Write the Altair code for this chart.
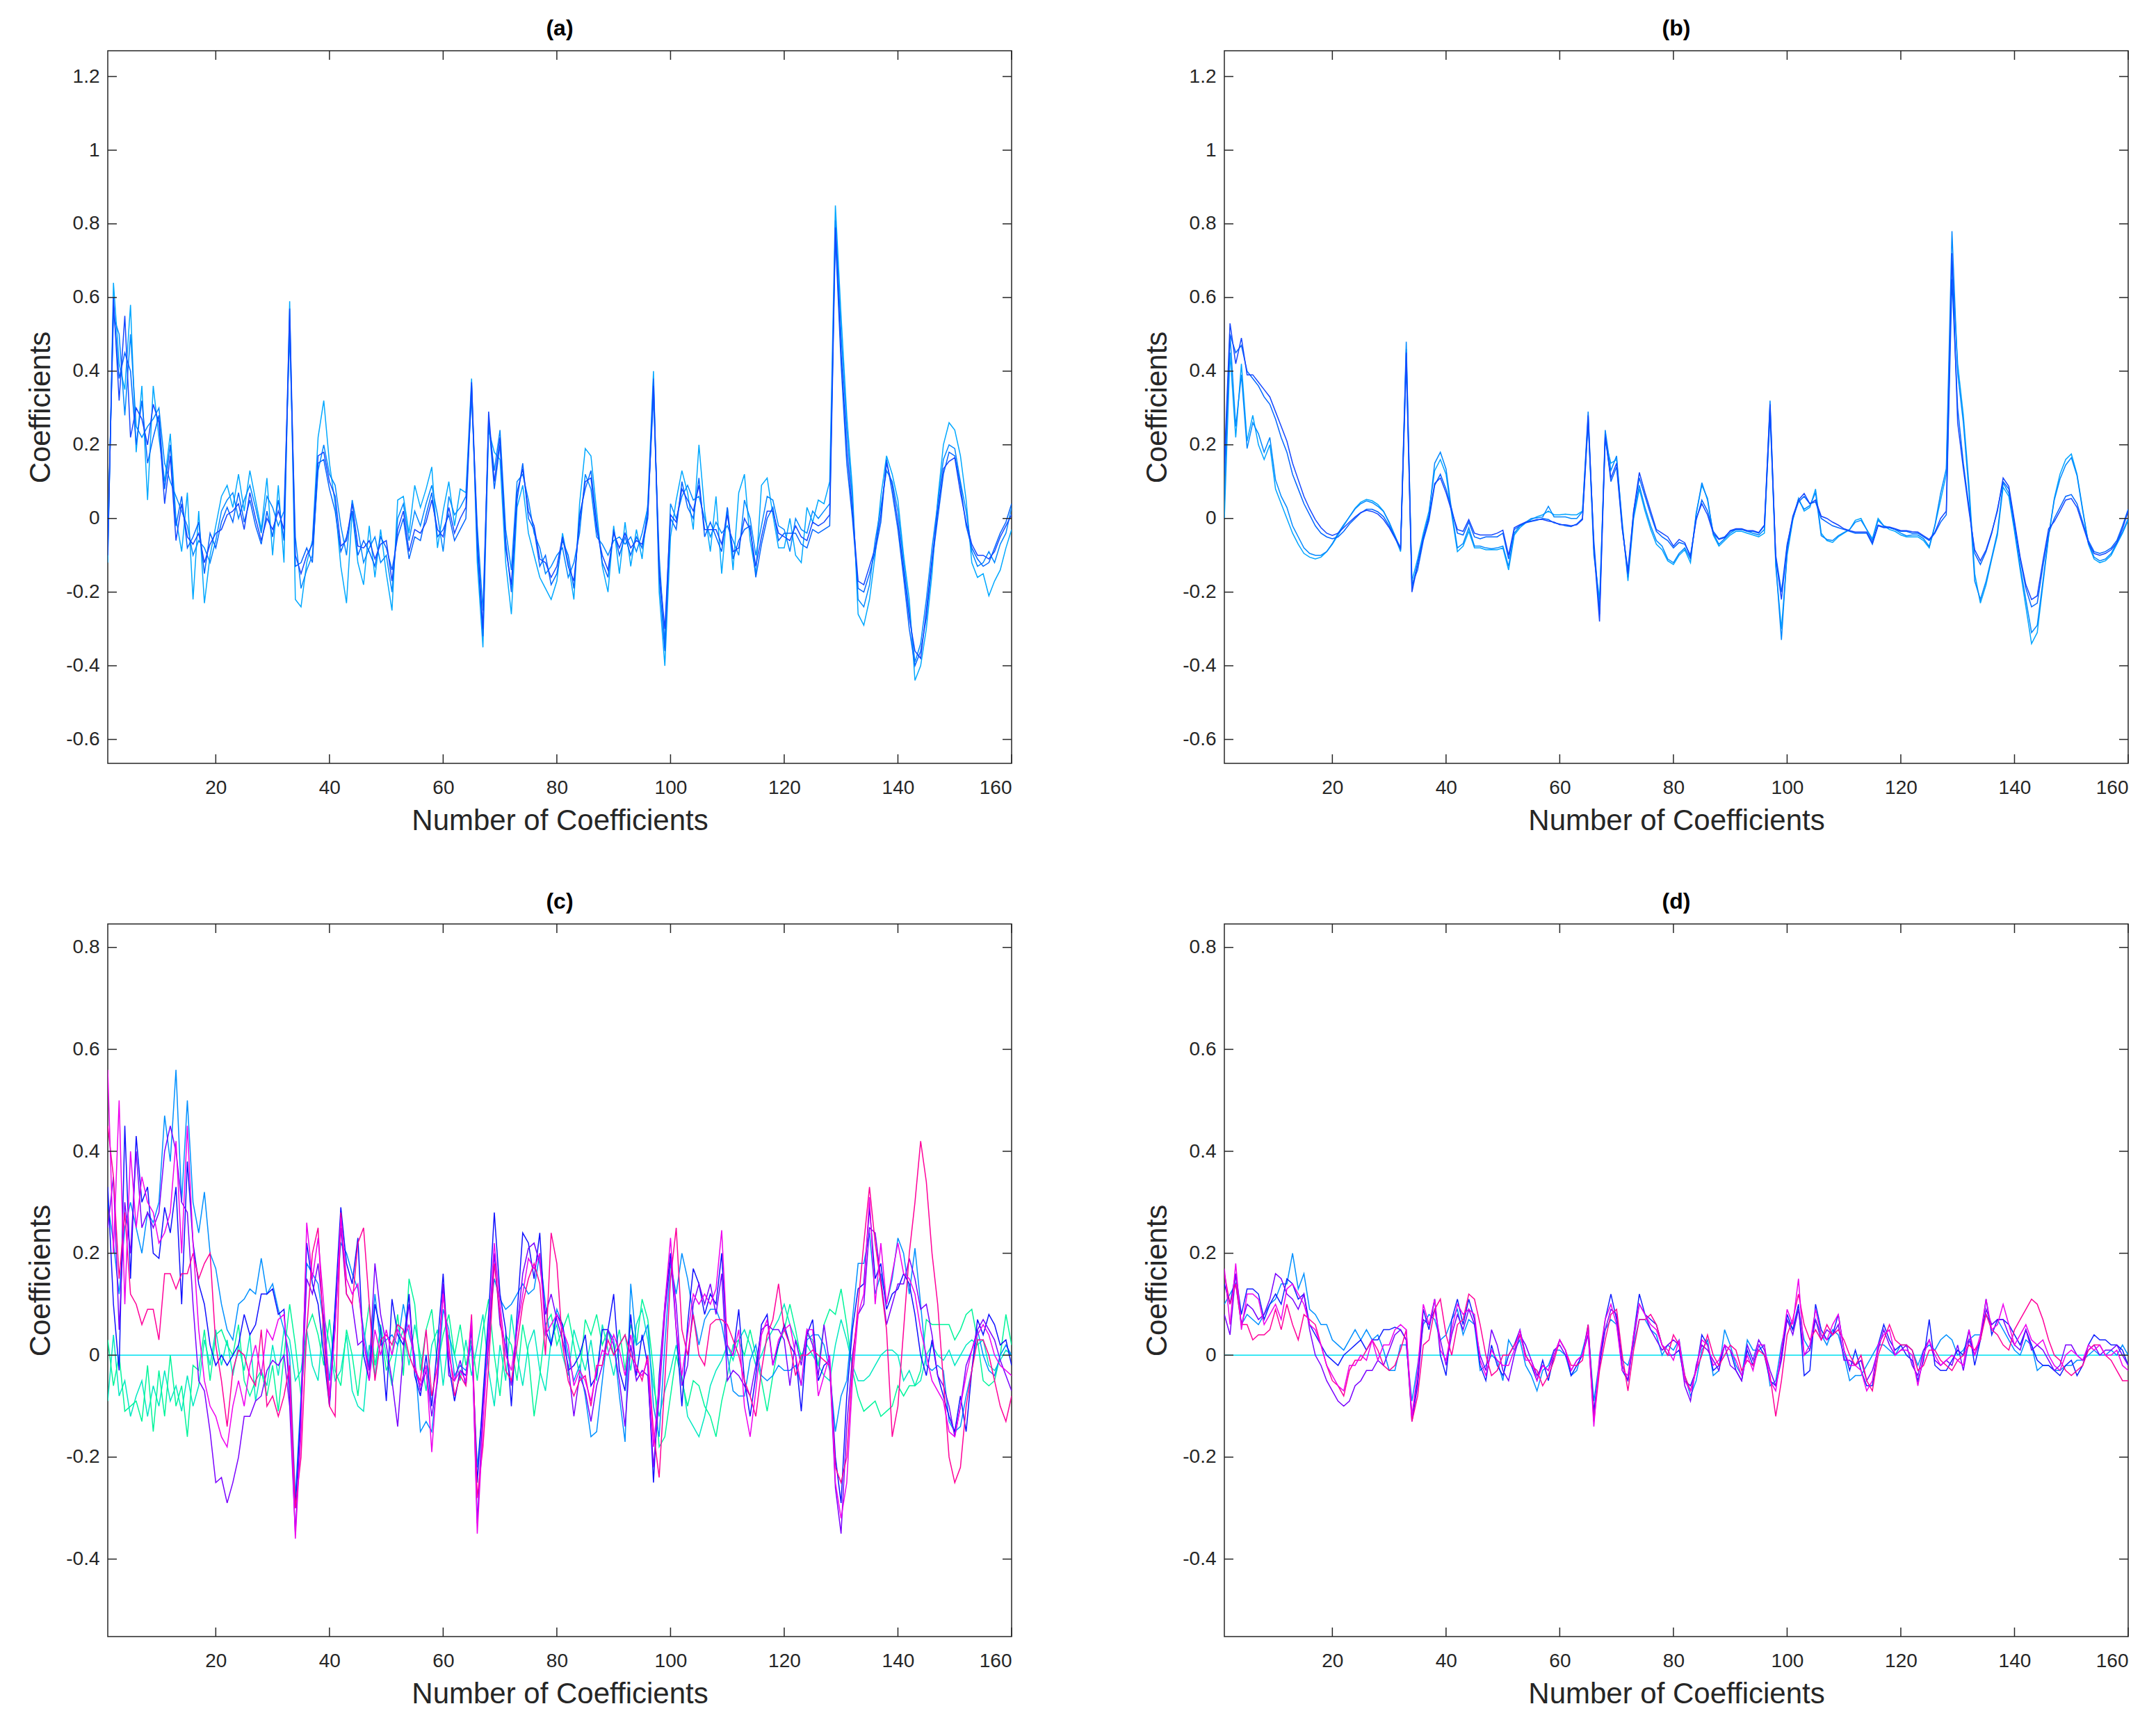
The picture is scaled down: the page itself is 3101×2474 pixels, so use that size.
import altair as alt
import pandas as pd

X = list(range(1, 161))
XTICKS = [20, 40, 60, 80, 100, 120, 140, 160]
YTICKS_AB = [-0.6, -0.4, -0.2, 0, 0.2, 0.4, 0.6, 0.8, 1, 1.2]
YTICKS_CD = [-0.4, -0.2, 0, 0.2, 0.4, 0.6, 0.8]

# ---------------- panel (a) ----------------
A_DARK = [
    -0.10, 0.60, 0.32, 0.55, 0.22, 0.30, 0.27, 0.20, 0.31, 0.26,
    0.04, 0.17, -0.06, 0.04, -0.05, -0.07, -0.04, -0.12, -0.07, -0.04,
    -0.03, 0.01, 0.02, 0.04, -0.03, 0.07, 0.00, -0.06, 0.00, -0.03,
    0.02, -0.03, 0.57, -0.10, -0.15, -0.10, -0.07, 0.17, 0.18, 0.10,
    0.06, -0.075, -0.06, 0.04, -0.075, -0.08, -0.06, -0.11, -0.07, -0.06,
    -0.17, -0.03, 0.02, -0.09, -0.03, -0.04, -0.01, 0.05, -0.03, -0.05,
    0.03, -0.04, 0.00, 0.03, 0.37, -0.05, -0.30, 0.29, 0.10, 0.22,
    -0.08, -0.18, 0.07, 0.135, 0.02, -0.02, -0.11, -0.12, -0.16, -0.13,
    -0.05, -0.13, -0.17, -0.01, 0.10, 0.11, -0.03, -0.10, -0.14, -0.04,
    -0.08, -0.04, -0.08, -0.06, -0.07, 0.01, 0.36, -0.14, -0.30, 0.01,
    -0.01, 0.08, 0.05, 0.02, 0.09, -0.03, -0.03, -0.03, -0.07, 0.01,
    -0.09, -0.08, 0.00, -0.03, -0.13, -0.05, 0.02, 0.02, -0.04, -0.05,
    -0.06, -0.02, -0.05, -0.06, -0.01, -0.02, -0.01, 0.01, 0.79, 0.45,
    0.19, 0.02, -0.17, -0.18, -0.13, -0.08, 0.01, 0.15, 0.09, -0.01,
    -0.14, -0.27, -0.36, -0.38, -0.25, -0.11, 0.02, 0.135, 0.155, 0.165,
    0.07, -0.01, -0.07, -0.10, -0.10, -0.11, -0.09, -0.05, -0.02, 0.01,
]
A_LIGHT = [
    -0.12, 0.64, 0.42, 0.35, 0.58, 0.18, 0.36, 0.05, 0.36, 0.22,
    0.10, 0.23, 0.00, -0.09, 0.07, -0.22, 0.02, -0.23, -0.10, -0.02,
    0.06, 0.09, 0.03, 0.12, 0.02, 0.13, 0.05, -0.03, 0.11, -0.10,
    0.09, -0.12, 0.59, -0.22, -0.24, -0.12, -0.06, 0.22, 0.32, 0.15,
    0.04, -0.13, -0.23, 0.02, -0.12, -0.18, -0.02, -0.16, -0.03, -0.15,
    -0.25, 0.05, 0.06, -0.04, 0.09, 0.03, 0.08, 0.14, -0.08, 0.02,
    0.10, -0.02, 0.08, 0.07, 0.38, -0.12, -0.35, 0.24, 0.18, 0.16,
    -0.12, -0.26, 0.03, 0.09, -0.04, -0.10, -0.16, -0.19, -0.22, -0.17,
    -0.04, -0.12, -0.22, 0.04, 0.19, 0.17, 0.02, -0.13, -0.20, -0.02,
    -0.15, -0.01, -0.13, -0.03, -0.11, 0.04, 0.40, -0.20, -0.40, -0.05,
    0.05, 0.13, 0.07, -0.03, 0.20, 0.02, -0.09, 0.06, -0.15, 0.03,
    -0.14, 0.07, 0.12, -0.06, -0.15, 0.09, 0.11, 0.01, -0.08, -0.08,
    0.00, -0.10, -0.12, 0.03, -0.01, 0.05, 0.04, 0.10, 0.85, 0.55,
    0.28, 0.08, -0.26, -0.29, -0.22, -0.10, 0.06, 0.17, 0.12, 0.05,
    -0.10, -0.22, -0.44, -0.40, -0.30, -0.15, 0.05, 0.20, 0.26, 0.24,
    0.17, 0.05, -0.12, -0.16, -0.15, -0.21, -0.17, -0.14, -0.08, -0.03,
]
A_MID1 = [
    -0.05, 0.55, 0.50, 0.28, 0.50, 0.25, 0.22, 0.25, 0.27, 0.30,
    0.15, 0.10, 0.06, 0.02, -0.02, -0.10, -0.06, -0.08, -0.12, -0.06,
    0.02, 0.05, 0.07, 0.00, 0.05, 0.09, 0.03, -0.04, 0.06, 0.03,
    -0.02, 0.02, 0.50, -0.05, -0.19, -0.14, -0.10, 0.13, 0.20, 0.12,
    0.09, -0.02, -0.10, 0.05, -0.03, -0.12, -0.08, -0.05, -0.12, -0.10,
    -0.20, 0.00, 0.04, -0.06, 0.02, -0.02, 0.04, 0.09, 0.01, -0.09,
    0.06, 0.01, 0.03, 0.06, 0.33, -0.02, -0.25, 0.26, 0.13, 0.24,
    -0.03, -0.14, 0.10, 0.12, 0.05, -0.04, -0.08, -0.15, -0.13, -0.10,
    -0.08, -0.16, -0.12, -0.04, 0.12, 0.08, -0.05, -0.07, -0.10, -0.06,
    -0.05, -0.07, -0.05, -0.09, -0.04, 0.03, 0.33, -0.10, -0.34, 0.04,
    0.00, 0.06, 0.09, 0.05, 0.06, 0.00, -0.05, -0.01, -0.04, -0.02,
    -0.06, -0.10, 0.05, 0.00, -0.10, -0.02, 0.06, 0.05, -0.02, -0.03,
    -0.09, 0.00, -0.03, -0.04, 0.02, 0.00, 0.02, 0.04, 0.81, 0.50,
    0.24, 0.05, -0.22, -0.24, -0.18, -0.06, 0.03, 0.13, 0.10, 0.02,
    -0.12, -0.25, -0.39, -0.34, -0.22, -0.08, 0.04, 0.16, 0.20, 0.19,
    0.10, 0.02, -0.09, -0.13, -0.12, -0.09, -0.12, -0.07, -0.04, 0.03,
]
A_MID2 = [
    -0.08, 0.58, 0.38, 0.45, 0.40, 0.20, 0.32, 0.15, 0.22, 0.28,
    0.08, 0.20, -0.02, 0.06, -0.08, -0.05, -0.01, -0.15, -0.04, -0.08,
    -0.01, 0.03, -0.01, 0.07, -0.01, 0.05, -0.02, -0.07, 0.02, -0.05,
    0.05, -0.06, 0.54, -0.13, -0.12, -0.08, -0.12, 0.15, 0.16, 0.08,
    0.02, -0.09, -0.05, 0.02, -0.10, -0.06, -0.09, -0.13, -0.05, -0.08,
    -0.14, -0.05, 0.00, -0.11, -0.05, -0.06, 0.01, 0.07, -0.05, -0.03,
    0.01, -0.06, -0.03, 0.00, 0.36, -0.08, -0.32, 0.27, 0.08, 0.20,
    -0.06, -0.20, 0.05, 0.15, 0.00, -0.03, -0.13, -0.10, -0.18, -0.15,
    -0.06, -0.10, -0.19, 0.01, 0.08, 0.13, -0.01, -0.12, -0.16, -0.03,
    -0.10, -0.05, -0.10, -0.05, -0.08, 0.00, 0.38, -0.16, -0.36, 0.00,
    -0.03, 0.10, 0.03, 0.00, 0.11, -0.05, -0.01, -0.05, -0.09, 0.03,
    -0.11, -0.06, -0.03, -0.02, -0.16, -0.07, 0.00, 0.03, -0.06, -0.04,
    -0.04, -0.04, -0.07, -0.08, -0.03, -0.04, -0.03, -0.02, 0.77, 0.42,
    0.15, 0.00, -0.19, -0.20, -0.15, -0.09, -0.01, 0.16, 0.07, -0.03,
    -0.16, -0.30, -0.40, -0.36, -0.27, -0.12, 0.00, 0.12, 0.18, 0.17,
    0.09, -0.02, -0.08, -0.11, -0.13, -0.12, -0.08, -0.04, -0.01, 0.04,
]

# ---------------- panel (b) ----------------
B_DARK = [
    0.15, 0.53, 0.42, 0.49, 0.39, 0.39, 0.37, 0.35, 0.33, 0.29,
    0.25, 0.21, 0.15, 0.105, 0.06, 0.026, -0.003, -0.025, -0.04, -0.046,
    -0.04, -0.025, -0.01, 0.004, 0.016, 0.022, 0.019, 0.012, -0.003, -0.025,
    -0.053, -0.082, 0.45, -0.20, -0.125, -0.053, 0.004, 0.095, 0.11, 0.07,
    0.019, -0.03, -0.035, -0.003, -0.04, -0.045, -0.045, -0.045, -0.04, -0.032,
    -0.10, -0.025, -0.017, -0.01, -0.007, -0.003, -0.003, -0.007, -0.01, -0.017,
    -0.017, -0.02, -0.017, -0.003, 0.28, -0.08, -0.28, 0.22, 0.11, 0.15,
    -0.025, -0.15, 0.019, 0.125, 0.07, 0.02, -0.03, -0.04, -0.05, -0.075,
    -0.057, -0.066, -0.105, 0.0, 0.04, 0.01, -0.04, -0.057, -0.052, -0.033,
    -0.028, -0.028, -0.033, -0.033, -0.038, -0.018, 0.31, -0.105, -0.22, -0.076,
    0.006, 0.05, 0.068, 0.04, 0.05, 0.006, 0.0, -0.01, -0.018, -0.028,
    -0.033, -0.037, -0.037, -0.037, -0.066, -0.018, -0.023, -0.023, -0.028, -0.033,
    -0.033, -0.036, -0.037, -0.047, -0.057, -0.037, 0.0, 0.02, 0.72, 0.26,
    0.135, 0.02, -0.085, -0.115, -0.085, -0.037, 0.02, 0.11, 0.087, -0.008,
    -0.105, -0.18, -0.22, -0.21, -0.115, -0.028, -0.008, 0.02, 0.05, 0.054,
    0.03, -0.018, -0.066, -0.095, -0.1, -0.095, -0.085, -0.066, -0.028, 0.02,
]
B_DARK2 = [
    0.12, 0.50, 0.45, 0.47, 0.40, 0.38, 0.36, 0.33, 0.31, 0.27,
    0.22, 0.18, 0.12, 0.08, 0.04, 0.01, -0.02, -0.04, -0.05, -0.055,
    -0.05, -0.035, -0.015, 0.0, 0.015, 0.025, 0.025, 0.018, 0.005, -0.02,
    -0.05, -0.08, 0.42, -0.18, -0.14, -0.06, -0.005, 0.09, 0.12, 0.08,
    0.025, -0.04, -0.045, -0.01, -0.05, -0.055, -0.05, -0.05, -0.05, -0.04,
    -0.11, -0.03, -0.02, -0.012, -0.008, -0.005, 0.0, -0.003, -0.012, -0.015,
    -0.02, -0.022, -0.015, 0.0, 0.26, -0.06, -0.26, 0.23, 0.1, 0.14,
    -0.03, -0.14, 0.02, 0.11, 0.06, 0.01, -0.035, -0.05, -0.06, -0.08,
    -0.065, -0.07, -0.1, -0.005, 0.05, 0.02, -0.035, -0.055, -0.05, -0.035,
    -0.03, -0.03, -0.035, -0.035, -0.04, -0.02, 0.28, -0.1, -0.2, -0.07,
    0.0, 0.045, 0.06, 0.04, 0.045, 0.0, -0.01, -0.02, -0.025, -0.03,
    -0.035, -0.04, -0.04, -0.04, -0.07, -0.02, -0.025, -0.025, -0.03, -0.035,
    -0.035, -0.04, -0.04, -0.05, -0.06, -0.04, -0.01, 0.01, 0.65, 0.3,
    0.15, 0.03, -0.095, -0.125, -0.09, -0.04, 0.025, 0.1, 0.08, -0.015,
    -0.11, -0.19, -0.24, -0.23, -0.13, -0.04, 0.0, 0.03, 0.06, 0.065,
    0.04, -0.01, -0.06, -0.09, -0.095, -0.09, -0.08, -0.06, -0.02, 0.025,
]
B_LIGHT = [
    0.05, 0.50, 0.25, 0.39, 0.19, 0.26, 0.23, 0.18, 0.22, 0.105,
    0.06, 0.03, -0.02, -0.05, -0.08, -0.095, -0.10, -0.10, -0.09, -0.068,
    -0.04, -0.017, 0.004, 0.026, 0.04, 0.048, 0.043, 0.033, 0.019, -0.01,
    -0.046, -0.082, 0.48, -0.19, -0.12, -0.05, 0.01, 0.15, 0.18, 0.134,
    0.019, -0.08, -0.068, -0.025, -0.075, -0.075, -0.08, -0.082, -0.08, -0.075,
    -0.13, -0.04, -0.02, -0.01, 0.0, 0.002, 0.004, 0.033, 0.004, 0.004,
    0.004, 0.0, 0.0, 0.019, 0.29, -0.08, -0.25, 0.24, 0.13, 0.17,
    -0.02, -0.16, 0.01, 0.09, 0.03, -0.02, -0.06, -0.075, -0.11, -0.12,
    -0.095, -0.08, -0.11, 0.01, 0.097, 0.05, -0.04, -0.07, -0.055, -0.04,
    -0.03, -0.03, -0.035, -0.04, -0.045, -0.03, 0.32, -0.12, -0.33, -0.09,
    0.0, 0.05, 0.025, 0.035, 0.07, -0.047, -0.057, -0.06, -0.047, -0.038,
    -0.03, -0.01, -0.005, -0.03, -0.06, -0.005, -0.02, -0.025, -0.03, -0.04,
    -0.047, -0.045, -0.045, -0.055, -0.076, -0.018, 0.068, 0.135, 0.78, 0.395,
    0.26, 0.07, -0.17, -0.22, -0.17, -0.105, -0.037, 0.097, 0.068, -0.028,
    -0.13, -0.22, -0.31, -0.29, -0.17, -0.047, 0.05, 0.107, 0.145, 0.165,
    0.116, 0.02, -0.066, -0.105, -0.115, -0.11, -0.095, -0.066, -0.037, 0.0,
]
B_LIGHT2 = [
    0.0, 0.45, 0.22, 0.42, 0.21, 0.28, 0.2, 0.16, 0.2, 0.08,
    0.04, 0.0, -0.04, -0.07, -0.095, -0.105, -0.11, -0.105, -0.09, -0.07,
    -0.045, -0.02, 0.005, 0.028, 0.044, 0.052, 0.048, 0.038, 0.02, -0.012,
    -0.05, -0.09, 0.46, -0.17, -0.11, -0.04, 0.02, 0.13, 0.16, 0.12,
    0.01, -0.09, -0.075, -0.035, -0.08, -0.08, -0.085, -0.085, -0.085, -0.08,
    -0.14, -0.045, -0.025, -0.012, -0.003, 0.005, 0.01, 0.02, 0.01, 0.01,
    0.012, 0.01, 0.01, 0.02, 0.27, -0.1, -0.22, 0.21, 0.15, 0.16,
    -0.01, -0.17, 0.0, 0.08, 0.02, -0.03, -0.07, -0.085, -0.115, -0.125,
    -0.1, -0.085, -0.12, 0.015, 0.09, 0.055, -0.045, -0.075, -0.06, -0.045,
    -0.035, -0.035, -0.04, -0.045, -0.05, -0.04, 0.3, -0.13, -0.3, -0.1,
    -0.005, 0.055, 0.02, 0.03, 0.08, -0.04, -0.06, -0.065, -0.05, -0.04,
    -0.03, -0.005, 0.0, -0.03, -0.055, 0.0, -0.02, -0.03, -0.035, -0.045,
    -0.05, -0.05, -0.05, -0.06, -0.08, -0.02, 0.05, 0.12, 0.7, 0.42,
    0.28, 0.09, -0.15, -0.23, -0.18, -0.11, -0.045, 0.085, 0.06, -0.035,
    -0.14, -0.24, -0.34, -0.31, -0.18, -0.05, 0.055, 0.12, 0.16, 0.175,
    0.12, 0.025, -0.07, -0.11, -0.12, -0.115, -0.1, -0.07, -0.04, -0.005,
]

# ---------------- panel (c) ----------------
C_BLUE = [
    0.33, 0.10, -0.03, 0.45, 0.15, 0.43, 0.30, 0.33, 0.20, 0.19,
    0.29, 0.24, 0.33, 0.10, 0.38, 0.22, 0.14, 0.10, 0.02, -0.02,
    0.00, -0.02, 0.00, 0.02, 0.08, 0.04, 0.06, 0.12, 0.12, 0.13,
    0.08, 0.09, -0.08, -0.30, -0.10, 0.22, 0.14, 0.10, 0.00, -0.10,
    0.10, 0.29, 0.18, 0.14, 0.23, 0.00, -0.05, 0.10, 0.05, -0.09,
    0.11, 0.04, 0.02, 0.12, -0.04, -0.08, 0.00, -0.10, 0.02, 0.16,
    -0.02, -0.09, -0.03, -0.04, 0.05, -0.25, -0.08, 0.08, 0.28, 0.12,
    0.05, -0.10, 0.08, 0.24, 0.22, 0.15, 0.24, 0.05, 0.02, 0.08,
    0.06, -0.03, -0.02, 0.00, 0.04, -0.06, -0.04, 0.05, 0.05, 0.12,
    -0.03, -0.07, 0.08, -0.04, 0.04, -0.02, -0.25, -0.04, 0.10, 0.20,
    0.05, -0.10, 0.06, 0.17, 0.14, 0.08, 0.12, 0.10, 0.20, 0.00,
    0.00, 0.09, -0.05, -0.12, -0.04, 0.06, 0.08, -0.02, 0.02, 0.06,
    0.02, 0.00, -0.11, 0.04, 0.07, -0.05, -0.02, -0.01, -0.20, -0.29,
    -0.08, 0.05, 0.13, 0.14, 0.29, 0.15, 0.18, 0.09, 0.12, 0.13,
    0.16, 0.14, 0.08, 0.00, -0.04, 0.03, -0.04, -0.08, -0.12, -0.15,
    -0.08, -0.15, -0.03, 0.07, 0.04, 0.08, 0.06, 0.02, 0.03, -0.02,
]
C_PURPLE = [
    0.25, 0.35, 0.05, 0.30, 0.20, 0.40, 0.25, 0.28, 0.25, 0.28,
    0.40, 0.45, 0.40, 0.30, 0.28, 0.10, -0.05, -0.07, -0.15, -0.25,
    -0.24, -0.29, -0.25, -0.20, -0.12, -0.12, -0.09, -0.08, -0.03, -0.01,
    -0.02, 0.00, -0.10, -0.35, -0.12, 0.15, 0.12, 0.18, 0.07, -0.10,
    0.06, 0.25, 0.12, 0.10, 0.02, 0.03, -0.03, 0.18, 0.08, 0.02,
    -0.05, -0.14, 0.01, 0.10, -0.02, -0.07, -0.03, -0.12, -0.05, 0.14,
    -0.04, -0.05, -0.01, -0.06, 0.06, -0.33, -0.10, 0.02, 0.20, 0.06,
    0.02, -0.06, 0.05, 0.16, 0.21, 0.22, 0.18, 0.08, 0.12, 0.07,
    0.03, -0.02, -0.12, -0.04, -0.07, -0.13, -0.06, -0.02, 0.05, 0.02,
    -0.05, -0.14, 0.02, -0.05, -0.03, -0.04, -0.22, -0.08, 0.08, 0.19,
    0.10, -0.06, -0.02, 0.10, 0.14, 0.10, 0.14, 0.08, 0.16, -0.05,
    -0.03, -0.04, -0.06, -0.08, -0.02, 0.05, 0.06, 0.05, 0.05, 0.03,
    -0.06, 0.03, -0.02, 0.05, 0.02, -0.04, 0.06, -0.02, -0.26, -0.35,
    -0.14, 0.00, 0.08, 0.10, 0.25, 0.24, 0.15, 0.06, 0.10, 0.14,
    0.14, 0.19, 0.15, 0.09, 0.10, 0.04, -0.04, -0.06, -0.10, -0.16,
    -0.10, -0.02, 0.01, 0.05, 0.07, 0.05, 0.03, -0.01, -0.04, -0.07,
]
C_MAGENTA = [
    0.56, 0.20, 0.50, 0.10, 0.40, 0.25, 0.35, 0.30, 0.28, 0.22,
    0.24, 0.28, 0.42, 0.20, 0.45, 0.22, 0.05, -0.05, -0.10, -0.12,
    -0.16, -0.18, -0.10, -0.05, -0.10, -0.02, 0.02, -0.04, 0.05, 0.03,
    0.07, 0.08, -0.05, -0.36, -0.15, 0.26, 0.15, 0.23, 0.10, -0.08,
    0.05, 0.27, 0.15, 0.12, 0.14, 0.03, -0.05, 0.05, 0.00, 0.05,
    0.00, 0.05, 0.03, 0.06, -0.02, -0.06, -0.02, -0.19, -0.03, 0.12,
    0.00, -0.05, -0.03, -0.05, 0.07, -0.35, -0.14, 0.05, 0.22, 0.10,
    0.00, -0.03, 0.05, 0.12, 0.19, 0.17, 0.20, 0.04, 0.06, 0.08,
    0.05, 0.02, -0.06, -0.03, -0.05, -0.09, -0.03, 0.01, 0.00, 0.04,
    0.01, -0.04, 0.04, -0.03, -0.04, -0.01, -0.18, -0.06, 0.10, 0.23,
    0.05, -0.04, 0.04, 0.12, 0.10, 0.12, 0.10, 0.13, 0.245, 0.02,
    0.00, 0.05, -0.10, -0.16, -0.07, 0.04, 0.07, -0.02, 0.03, 0.05,
    0.06, 0.00, -0.06, 0.05, 0.05, -0.08, -0.04, 0.00, -0.25, -0.32,
    -0.25, -0.05, 0.08, 0.12, 0.31, 0.10, 0.22, 0.10, 0.16, 0.22,
    0.16, 0.15, 0.12, 0.05, 0.00, -0.05, -0.07, -0.09, -0.15, -0.16,
    -0.10, -0.04, 0.01, 0.04, 0.06, 0.04, 0.00, -0.02, -0.03, -0.04,
]
C_PINK = [
    0.45, 0.35, 0.15, 0.28, 0.12, 0.10, 0.06, 0.09, 0.09, 0.03,
    0.16, 0.16, 0.13, 0.16, 0.16, 0.20, 0.15, 0.18, 0.20, 0.02,
    -0.05, -0.14, -0.03, 0.01, 0.00, -0.04, -0.06, 0.05, -0.10, -0.08,
    -0.12, -0.08, -0.02, -0.30, -0.20, 0.05, 0.20, 0.25, 0.03, -0.10,
    -0.12, 0.28, 0.12, 0.10, 0.22, 0.25, 0.10, -0.05, 0.03, 0.04,
    0.02, 0.06, 0.05, 0.00, -0.03, -0.05, 0.05, -0.08, -0.02, 0.12,
    0.02, -0.08, -0.04, -0.06, 0.08, -0.28, -0.18, -0.02, 0.18, 0.08,
    -0.03, -0.05, 0.02, 0.10, 0.15, 0.18, 0.14, 0.00, 0.24, 0.18,
    0.02, -0.05, -0.08, -0.05, -0.04, -0.10, -0.02, -0.02, 0.03, 0.00,
    0.02, 0.04, 0.00, -0.02, -0.05, 0.00, -0.15, -0.24, -0.05, 0.15,
    0.25, 0.05, 0.00, 0.08, 0.00, -0.02, 0.06, 0.07, 0.07, 0.06,
    0.03, 0.00, -0.05, -0.08, -0.12, -0.03, 0.04, 0.07, 0.14, 0.05,
    0.02, -0.04, 0.00, 0.00, 0.01, 0.00, -0.01, -0.02, -0.22, -0.25,
    -0.20, -0.02, 0.10, 0.22, 0.33, 0.22, 0.14, 0.05, -0.16, -0.10,
    0.05, 0.20, 0.30, 0.42, 0.34, 0.20, 0.10, -0.05, -0.20, -0.25,
    -0.22, -0.10, -0.03, 0.03, 0.03, 0.00, -0.05, -0.10, -0.13, -0.08,
]
C_SKY = [
    0.30, 0.22, 0.12, 0.25, 0.30, 0.25, 0.20, 0.28, 0.26, 0.30,
    0.47, 0.38, 0.56, 0.30, 0.50, 0.30, 0.24, 0.32, 0.20, 0.17,
    0.10, 0.05, 0.03, 0.10, 0.11, 0.13, 0.12, 0.19, 0.12, 0.14,
    0.09, 0.05, 0.00, -0.28, -0.08, 0.18, 0.16, 0.14, 0.06, -0.05,
    0.09, 0.22, 0.20, 0.16, 0.13, 0.05, -0.02, 0.12, 0.02, 0.03,
    0.04, 0.02, 0.10, 0.04, 0.00, -0.15, -0.13, -0.15, -0.05, 0.09,
    0.05, -0.04, -0.02, -0.03, 0.02, -0.22, -0.10, 0.06, 0.15, 0.11,
    0.09, 0.10, 0.12, 0.14, 0.12, 0.13, 0.20, 0.10, 0.02, 0.09,
    0.06, 0.00, -0.05, -0.02, -0.08, -0.16, -0.15, -0.05, 0.05, 0.03,
    -0.08, -0.17, 0.14, 0.02, 0.03, 0.06, -0.10, -0.16, 0.02, 0.18,
    0.12, 0.20, 0.15, 0.08, 0.02, 0.07, 0.09, 0.09, 0.06, 0.00,
    -0.07, -0.08, -0.08, -0.01, 0.02, -0.04, -0.05, -0.04, -0.02, -0.03,
    -0.03, -0.02, -0.06, 0.03, 0.04, 0.04, 0.02, -0.03, -0.15, -0.08,
    -0.05, 0.07, 0.18, 0.18, 0.24, 0.12, 0.16, 0.10, 0.15, 0.23,
    0.20, 0.12, 0.21, 0.10, -0.02, -0.03, -0.02, -0.03, -0.13, -0.15,
    -0.14, -0.08, -0.03, 0.05, 0.00, -0.03, -0.04, 0.00, 0.02, 0.00,
]
C_GREEN = [
    0.03, -0.06, 0.00, -0.11, -0.10, -0.09, -0.13, -0.02, -0.15, -0.03,
    -0.12, 0.00, -0.10, -0.06, -0.16, -0.02, -0.03, 0.05, -0.05, 0.04,
    0.05, 0.02, 0.00, 0.06, -0.05, -0.08, -0.05, -0.03, -0.08, -0.02,
    -0.11, 0.00, 0.10, 0.02, -0.08, 0.05, 0.08, 0.04, -0.02, 0.07,
    -0.03, -0.06, 0.05, 0.00, -0.08, 0.02, 0.10, -0.02, 0.05, -0.03,
    0.00, 0.08, -0.04, 0.15, 0.10, -0.03, 0.05, 0.09, -0.02, 0.04,
    0.08, 0.00, 0.06, -0.02, 0.03, -0.05, 0.05, 0.11, 0.00, -0.08,
    0.04, 0.02, -0.05, 0.06, 0.00, -0.12, -0.04, 0.06, 0.08, 0.02,
    0.05, 0.08, 0.02, -0.04, 0.07, 0.04, 0.08, 0.02, 0.05, 0.00,
    0.05, -0.03, 0.06, 0.02, 0.11, 0.07, -0.03, -0.18, -0.16, -0.08,
    0.00, -0.05, -0.10, -0.05, -0.06, -0.10, -0.12, -0.16, -0.09, -0.04,
    0.02, 0.03, 0.00, 0.05, 0.00, -0.05, -0.11, -0.04, 0.02, 0.05,
    0.10, 0.05, -0.01, 0.04, 0.03, -0.02, 0.06, 0.09, 0.08, 0.13,
    0.06, -0.03, -0.08, -0.11, -0.10, -0.09, -0.12, -0.11, -0.10, -0.06,
    -0.08, -0.06, -0.06, -0.03, 0.07, 0.06, 0.06, 0.06, 0.06, 0.03,
    0.05, 0.08, 0.09, 0.03, -0.05, -0.06, -0.05, 0.00, 0.08, 0.02,
]
C_TEAL = [
    -0.09, 0.04, -0.08, -0.05, -0.12, -0.08, -0.05, -0.12, -0.06, -0.10,
    -0.03, -0.09, -0.06, -0.11, -0.04, -0.10, -0.06, 0.03, -0.02, 0.05,
    -0.02, 0.03, -0.04, 0.02, -0.03, 0.04, -0.09, -0.03, -0.06, 0.02,
    -0.04, 0.05, 0.03, -0.05, -0.03, 0.05, -0.02, -0.05, 0.08, 0.02,
    -0.05, -0.03, 0.04, -0.07, -0.10, -0.11, 0.02, -0.04, 0.06, 0.00,
    -0.06, 0.02, 0.05, -0.02, 0.06, 0.00, -0.07, 0.02, 0.05, -0.06,
    0.04, 0.00, -0.05, 0.03, -0.04, 0.02, 0.08, -0.03, -0.10, 0.02,
    -0.05, 0.08, 0.00, -0.06, 0.02, 0.05, -0.03, -0.07, 0.03, 0.06,
    0.00, -0.04, 0.05, 0.01, -0.03, 0.03, -0.05, 0.06, 0.01, -0.04,
    0.02, 0.04, -0.03, 0.06, 0.09, 0.03, -0.06, -0.12, -0.07, -0.03,
    0.02, -0.04, -0.12, -0.14, -0.16, -0.12, -0.06, -0.03, -0.01, 0.02,
    -0.01, 0.03, 0.05, 0.02, -0.02, 0.00, 0.03, 0.05, 0.07, 0.10,
    0.06, 0.03, 0.00, 0.02, 0.00, -0.02, -0.04, -0.05, 0.02, 0.07,
    0.03, -0.02, -0.05, -0.05, -0.04, -0.02, 0.00, 0.01, 0.01, 0.00,
    -0.05, -0.03, -0.06, -0.05, 0.00, 0.02, 0.00, -0.01, 0.01, -0.02,
    0.00, 0.02, 0.03, 0.02, 0.03, -0.02, -0.03, -0.01, 0.01, 0.00,
]
ZERO = [0.0] * 160

# ---------------- panel (d) ----------------
D_BLUE = [
    0.14, 0.10, 0.16, 0.08, 0.13, 0.13, 0.12, 0.07, 0.10, 0.12,
    0.10, 0.15, 0.14, 0.11, 0.12, 0.06, 0.04, 0.02, 0.00, -0.01,
    -0.02, 0.00, 0.01, 0.02, 0.03, 0.01, 0.03, 0.03, 0.05, 0.05,
    0.055, 0.05, 0.03, -0.12, -0.05, 0.09, 0.05, 0.11, 0.00, -0.04,
    0.07, 0.11, 0.06, 0.11, 0.07, -0.02, -0.05, 0.02, -0.02, -0.04,
    0.00, 0.02, 0.05, 0.00, -0.02, -0.05, -0.01, -0.05, 0.00, 0.03,
    0.01, -0.04, -0.02, 0.00, 0.06, -0.11, -0.02, 0.07, 0.12, 0.07,
    -0.03, -0.05, 0.04, 0.12, 0.08, 0.07, 0.06, 0.02, 0.00, 0.00,
    0.01, -0.05, -0.06, -0.03, 0.04, 0.02, -0.03, -0.02, 0.02, 0.01,
    -0.03, -0.05, 0.01, -0.02, 0.02, 0.00, -0.05, -0.06, 0.00, 0.08,
    0.05, 0.10, -0.04, -0.03, 0.10, 0.05, 0.03, 0.04, 0.08, 0.01,
    -0.03, 0.01, -0.03, -0.06, -0.06, 0.02, 0.06, 0.03, 0.01, 0.02,
    0.00, -0.01, -0.05, -0.01, 0.07, -0.02, -0.03, -0.03, -0.01, 0.01,
    0.00, 0.05, -0.02, 0.03, 0.11, 0.04, 0.07, 0.07, 0.06, 0.04,
    0.02, 0.05, 0.02, -0.01, -0.02, -0.02, -0.03, -0.04, -0.02, -0.01,
    -0.04, -0.02, 0.02, 0.04, 0.03, 0.03, 0.02, 0.02, 0.01, -0.02,
]
D_PURPLE = [
    0.08, 0.04, 0.16, 0.06, 0.10, 0.09, 0.07, 0.08, 0.11, 0.16,
    0.15, 0.12, 0.11, 0.09, 0.12, 0.05, 0.00, -0.02, -0.05, -0.07,
    -0.09, -0.10, -0.09, -0.06, -0.05, -0.03, -0.03, -0.01, -0.02, 0.01,
    0.04, 0.05, 0.03, -0.13, -0.06, 0.07, 0.06, 0.09, 0.03, -0.02,
    0.04, 0.08, 0.05, 0.09, 0.06, 0.00, -0.03, 0.05, 0.02, -0.03,
    -0.05, 0.00, 0.04, 0.02, -0.01, -0.04, -0.02, -0.03, 0.01, 0.02,
    0.00, -0.03, -0.01, 0.00, 0.04, -0.12, -0.02, 0.05, 0.09, 0.08,
    -0.02, -0.05, 0.03, 0.10, 0.08, 0.05, 0.03, 0.01, 0.02, 0.03,
    0.02, -0.06, -0.09, -0.02, 0.02, 0.01, -0.01, -0.03, 0.02, -0.02,
    -0.03, -0.05, 0.02, -0.01, 0.03, 0.01, -0.03, -0.06, -0.01, 0.07,
    0.04, 0.09, 0.00, 0.01, 0.07, 0.03, 0.05, 0.04, 0.06, -0.01,
    -0.01, -0.02, -0.01, -0.05, -0.03, 0.01, 0.05, 0.02, 0.00, 0.01,
    0.02, -0.02, -0.04, 0.01, 0.03, -0.01, -0.02, -0.01, -0.02, 0.02,
    -0.03, 0.03, 0.00, 0.03, 0.09, 0.06, 0.07, 0.07, 0.04, 0.02,
    0.01, 0.05, 0.01, 0.02, 0.01, -0.01, -0.03, -0.02, 0.02, 0.02,
    0.00, -0.01, 0.01, 0.02, 0.00, 0.01, 0.01, 0.02, 0.00, -0.02,
]
D_MAGENTA = [
    0.17, 0.06, 0.18, 0.05, 0.12, 0.12, 0.11, 0.06, 0.08, 0.10,
    0.07, 0.13, 0.14, 0.12, 0.10, 0.06, 0.05, 0.02, -0.02, -0.04,
    -0.06, -0.07, -0.02, -0.02, 0.00, -0.01, 0.03, -0.01, 0.02, 0.02,
    0.05, 0.06, 0.05, -0.12, -0.03, 0.10, 0.06, 0.11, 0.01, -0.01,
    0.05, 0.10, 0.08, 0.09, 0.08, -0.01, -0.04, 0.01, -0.01, -0.02,
    -0.02, 0.01, 0.05, -0.01, -0.01, -0.05, -0.02, -0.03, 0.00, 0.03,
    0.01, -0.03, -0.01, 0.00, 0.05, -0.14, 0.00, 0.07, 0.10, 0.06,
    -0.03, -0.04, 0.04, 0.10, 0.08, 0.06, 0.05, 0.02, 0.01, -0.01,
    0.03, -0.05, -0.07, -0.03, 0.03, 0.02, -0.02, -0.01, 0.02, 0.01,
    -0.01, -0.04, 0.00, -0.03, 0.02, 0.02, -0.05, -0.07, 0.01, 0.09,
    0.06, 0.15, 0.00, 0.02, 0.09, 0.04, 0.03, 0.06, 0.08, 0.01,
    -0.02, -0.02, -0.03, -0.07, -0.05, 0.02, 0.04, 0.05, 0.00, 0.01,
    0.01, 0.00, -0.06, 0.00, 0.03, 0.00, -0.02, -0.01, 0.00, -0.01,
    -0.02, 0.05, 0.00, 0.04, 0.11, 0.05, 0.06, 0.10, 0.06, 0.02,
    0.04, 0.06, 0.03, 0.02, 0.03, 0.00, -0.02, -0.03, 0.00, 0.01,
    0.00, -0.01, 0.02, 0.01, 0.02, 0.00, 0.00, 0.01, -0.02, -0.03,
]
D_PINK = [
    0.16, 0.10, 0.14, 0.06, 0.06, 0.03, 0.04, 0.04, 0.05, 0.09,
    0.05, 0.10, 0.06, 0.03, 0.08, 0.07, 0.06, 0.02, -0.02, -0.05,
    -0.06, -0.08, -0.03, -0.01, -0.01, 0.01, 0.03, 0.01, -0.02, -0.03,
    -0.02, 0.01, 0.05, -0.13, -0.08, 0.02, 0.03, 0.09, 0.11, 0.04,
    0.00, 0.06, 0.07, 0.12, 0.11, 0.06, 0.00, -0.04, -0.03, 0.00,
    0.00, 0.02, 0.04, 0.00, -0.02, -0.03, -0.06, -0.04, -0.01, 0.03,
    0.01, -0.02, -0.02, -0.01, 0.06, -0.13, -0.03, 0.03, 0.08, 0.09,
    0.00, -0.07, 0.01, 0.07, 0.07, 0.08, 0.06, 0.02, 0.00, 0.04,
    0.02, -0.04, -0.07, -0.03, 0.00, 0.04, 0.00, -0.02, 0.00, 0.02,
    0.01, -0.03, -0.01, -0.02, 0.01, 0.00, -0.04, -0.12, -0.05, 0.04,
    0.07, 0.12, 0.06, 0.03, 0.05, 0.03, 0.06, 0.04, 0.05, 0.03,
    0.00, -0.02, 0.00, -0.05, -0.07, 0.00, 0.03, 0.06, 0.03, 0.02,
    0.02, 0.01, -0.03, -0.02, 0.01, 0.01, -0.01, -0.02, -0.03, -0.01,
    0.00, 0.02, 0.01, 0.03, 0.08, 0.05, 0.04, 0.02, 0.01, 0.05,
    0.07, 0.09, 0.11, 0.10, 0.07, 0.03, 0.00, -0.01, -0.03, -0.04,
    -0.03, -0.02, 0.01, 0.02, 0.02, 0.00, -0.01, -0.03, -0.05, -0.05,
]
D_SKY = [
    0.10, 0.12, 0.14, 0.06, 0.08, 0.07, 0.06, 0.08, 0.10, 0.11,
    0.14, 0.14, 0.20, 0.13, 0.16, 0.09, 0.08, 0.06, 0.06, 0.03,
    0.02, 0.01, 0.03, 0.05, 0.03, 0.05, 0.03, 0.04, 0.01, -0.03,
    -0.03, 0.02, 0.02, -0.09, -0.02, 0.06, 0.08, 0.07, 0.03, 0.04,
    0.07, 0.09, 0.04, 0.07, 0.06, -0.03, -0.02, 0.00, -0.01, -0.05,
    0.03, 0.01, 0.03, -0.02, -0.04, -0.07, -0.03, -0.02, 0.01, 0.01,
    0.00, -0.04, -0.03, 0.01, 0.05, -0.09, -0.01, 0.05, 0.07, 0.06,
    -0.01, -0.02, 0.02, 0.07, 0.07, 0.05, 0.04, 0.00, 0.02, 0.01,
    0.03, -0.04, -0.08, -0.05, 0.01, 0.03, -0.04, -0.03, 0.05, 0.02,
    -0.02, -0.04, 0.03, 0.01, 0.01, 0.02, -0.06, -0.05, 0.02, 0.07,
    0.05, 0.09, 0.03, 0.01, 0.07, 0.04, 0.02, 0.05, 0.04, 0.00,
    -0.05, -0.04, -0.04, -0.02, 0.00, 0.02, 0.02, 0.01, 0.00, 0.02,
    0.02, 0.01, -0.02, 0.01, 0.02, 0.01, 0.03, 0.04, 0.03, 0.00,
    0.01, 0.03, 0.04, 0.04, 0.08, 0.06, 0.07, 0.05, 0.03, 0.01,
    0.00, 0.03, 0.02, -0.03, -0.02, -0.02, -0.03, -0.03, -0.02, -0.02,
    -0.01, -0.01, 0.00, 0.01, 0.00, 0.00, 0.01, 0.00, 0.02, 0.00,
]

FONT = "Liberation Sans"
INK = "#262626"
W, H = 1300, 1025
TL = 13  # inward tick length (px)


def panel(key, title, series, yticks, ydomain):
    rows = []
    names, cols = [], []
    for name, vals, col in series:
        assert len(vals) == 160, (title, name, len(vals))
        sname = key + name
        names.append(sname)
        cols.append(col)
        for x, v in zip(X, vals):
            rows.append({"x": x, "y": v, "s": sname})
    df = pd.DataFrame(rows)
    xs = alt.Scale(domain=[1, 160], nice=False, zero=False)
    ys = alt.Scale(domain=list(ydomain), nice=False, zero=False)

    lines = alt.Chart(df).mark_line(strokeWidth=1.5, clip=True).encode(
        x=alt.X("x:Q", scale=xs, axis=alt.Axis(
            values=XTICKS, title="Number of Coefficients", ticks=False, tickSize=0,
            domain=False, grid=False, labelFont=FONT, labelFontSize=28,
            labelColor=INK, labelPadding=21, titleFont=FONT, titleFontSize=42,
            titleFontWeight="normal", titleColor=INK, titlePadding=13)),
        y=alt.Y("y:Q", scale=ys, axis=alt.Axis(
            values=yticks, title="Coefficients", ticks=False, tickSize=0,
            domain=False, grid=False, labelFont=FONT, labelFontSize=28,
            labelColor=INK, labelPadding=12, titleFont=FONT, titleFontSize=42,
            titleFontWeight="normal", titleColor=INK, titlePadding=14,
            labelExpr="replace(format(datum.value, '.1~f'), '\u2212', '-')")),
        color=alt.Color("s:N", scale=alt.Scale(domain=names, range=cols), legend=None),
    )

    xt = pd.DataFrame({"x": XTICKS})
    yt = pd.DataFrame({"y": yticks})
    rule = dict(color=INK, strokeWidth=1.5)
    bottom = alt.Chart(xt).mark_rule(**rule).encode(
        x=alt.X("x:Q", scale=xs), y=alt.value(H), y2=alt.value(H - TL))
    top = alt.Chart(xt).mark_rule(**rule).encode(
        x=alt.X("x:Q", scale=xs), y=alt.value(0), y2=alt.value(TL))
    left = alt.Chart(yt).mark_rule(**rule).encode(
        y=alt.Y("y:Q", scale=ys), x=alt.value(0), x2=alt.value(TL))
    right = alt.Chart(yt).mark_rule(**rule).encode(
        y=alt.Y("y:Q", scale=ys), x=alt.value(W), x2=alt.value(W - TL))

    return alt.layer(lines, bottom, top, left, right).properties(
        width=W, height=H,
        title=alt.TitleParams(title, font=FONT, fontSize=32, fontWeight="bold",
                              color="#000000", offset=14, anchor="middle"),
    )


pa = panel("a", "(a)", [
    ("1", A_LIGHT, "#00A8FF"),
    ("2", A_MID1, "#0088FF"),
    ("3", A_MID2, "#0066FF"),
    ("4", A_DARK, "#1446FF"),
], YTICKS_AB, (-0.665, 1.27))

pb = panel("b", "(b)", [
    ("1", B_LIGHT2, "#00A4FF"),
    ("2", B_LIGHT, "#0088FF"),
    ("3", B_DARK2, "#0066FF"),
    ("4", B_DARK, "#1446FF"),
], YTICKS_AB, (-0.665, 1.27))

pc = panel("c", "(c)", [
    ("1", ZERO, "#00E0F0"),
    ("2", C_TEAL, "#00E8C0"),
    ("3", C_GREEN, "#00F59A"),
    ("4", C_SKY, "#0090FF"),
    ("5", C_BLUE, "#1010FF"),
    ("6", C_PURPLE, "#7A00FF"),
    ("7", C_PINK, "#FF0099"),
    ("8", C_MAGENTA, "#EE00EE"),
], YTICKS_CD, (-0.552, 0.846))

pd_ = panel("d", "(d)", [
    ("1", ZERO, "#00E0F0"),
    ("2", D_SKY, "#0090FF"),
    ("3", D_BLUE, "#1020FF"),
    ("4", D_PURPLE, "#7A00FF"),
    ("5", D_PINK, "#FF0099"),
    ("6", D_MAGENTA, "#EE00EE"),
], YTICKS_CD, (-0.552, 0.846))

row1 = alt.hconcat(pa, pb, spacing=186).resolve_scale(color="independent")
row2 = alt.hconcat(pc, pd_, spacing=186).resolve_scale(color="independent")
chart = alt.vconcat(row1, row2, spacing=78).resolve_scale(color="independent").properties(
    padding={"left": 29, "top": 16, "right": 5, "bottom": 5},
    background="white",
).configure_view(stroke=INK, strokeWidth=1.5)

chart.save("out.html", embed_options={"renderer": "svg", "actions": False})
